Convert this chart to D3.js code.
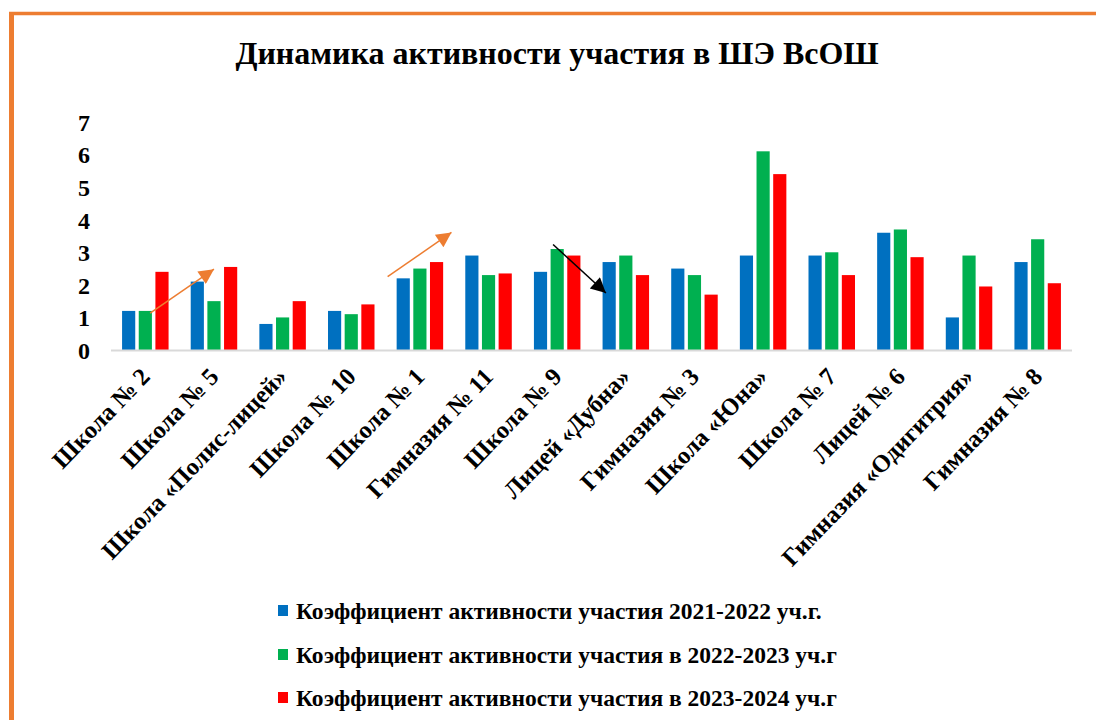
<!DOCTYPE html>
<html><head><meta charset="utf-8">
<script src="https://cdn.jsdelivr.net/npm/d3@7"></script>
<style>
html,body{margin:0;padding:0;background:#fff;}
svg{display:block;}
</style></head>
<body>
<script>
const categories = ["Школа № 2","Школа № 5","Школа «Полис-лицей»","Школа № 10","Школа № 1","Гимназия № 11","Школа № 9","Лицей «Дубна»","Гимназия № 3","Школа «Юна»","Школа № 7","Лицей № 6","Гимназия «Одигитрия»","Гимназия № 8"];
const series2021 = [1.2,2.1,0.8,1.2,2.2,2.9,2.4,2.7,2.5,2.9,2.9,3.6,1.0,2.7];
const series2022 = [1.2,1.5,1.0,1.1,2.5,2.3,3.1,2.9,2.3,6.1,3.0,3.7,2.9,3.4];
const series2023 = [2.4,2.55,1.5,1.4,2.7,2.35,2.9,2.3,1.7,5.4,2.3,2.85,1.95,2.05];
const seriesNames = ["Коэффициент активности участия 2021-2022 уч.г.","Коэффициент активности участия в 2022-2023 уч.г","Коэффициент активности участия в 2023-2024 уч.г"];
const seriesColors = ["#0070C0","#00B050","#FF0000"];
const yTicks = [0,1,2,3,4,5,6,7];
const title = "Динамика активности участия в ШЭ ВсОШ";
// annotation arrows: [startIndex, startValue, endIndex, endValue] in category-band units
const arrowsOrange = [[0.57,1.13,1.5,2.48],[4.03,2.25,4.96,3.61]];
const arrowsBlack = [[6.44,3.24,7.21,1.75]];

const FONT = "'Liberation Serif','Times New Roman',serif";
const W=1096,H=720;
const svg=d3.select("body").append("svg").attr("width",W).attr("height",H)
  .style("font-family",FONT).style("font-weight","bold");
const L=111,R=1072,B=350,T=122;

// border
svg.append("line").attr("x1",9).attr("x2",W).attr("y1",13.5).attr("y2",13.5).attr("stroke","#ED7D31").attr("stroke-width",3.5);
svg.append("line").attr("x1",11.5).attr("x2",11.5).attr("y1",12).attr("y2",H).attr("stroke","#ED7D31").attr("stroke-width",5);

svg.append("text").attr("x",557).attr("y",64).attr("text-anchor","middle")
  .style("font-family",FONT).style("font-weight","bold").attr("font-size",32).text(title);

const x=d3.scaleBand().domain(categories).range([L,R]).paddingInner(0).paddingOuter(0);
const y=d3.scaleLinear().domain([0,7]).range([B,T]);
const xs=d3.scaleBand().domain([0,1,2]).range([0,46.5]).paddingInner(0.21);
const xIdx=d3.scaleLinear().domain([0,categories.length]).range([L,R]);
const off=(x.bandwidth()-46.5)/2;

const allSeries=[series2021,series2022,series2023];
allSeries.forEach((s,si)=>{
  svg.append("g").selectAll("rect").data(s).join("rect")
    .attr("x",(d,i)=>x(categories[i])+off+xs(si))
    .attr("width",xs.bandwidth())
    .attr("y",d=>y(d)).attr("height",d=>B-y(d))
    .attr("fill",seriesColors[si]);
});

// axis line
svg.append("line").attr("x1",L).attr("x2",R).attr("y1",B+0.5).attr("y2",B+0.5).attr("stroke","#D9D9D9").attr("stroke-width",2);

// y axis
const yAxis=d3.axisLeft(y).tickValues(yTicks).tickSize(0).tickPadding(0).tickFormat(d3.format("d"));
const ga=svg.append("g").attr("transform",`translate(${90},0)`).call(yAxis);
ga.attr("font-family",null).attr("font-size",null);
ga.select(".domain").remove();
ga.selectAll("text").style("font-family",FONT).style("font-weight","bold").attr("font-size",24).attr("fill","#000").attr("dy","0.35em");

// x labels
const xAxis=d3.axisBottom(x).tickSize(0).tickPadding(0);
const gx=svg.append("g").attr("transform",`translate(0,${B})`).call(xAxis);
gx.attr("font-family",null).attr("font-size",null);
gx.select(".domain").remove();
gx.selectAll("text").style("font-family",FONT).style("font-weight","bold").attr("font-size",24.5).attr("fill","#000")
  .attr("text-anchor","end").attr("dy",null).attr("y",0)
  .attr("transform","translate(6,28) rotate(-46)");

// arrows
const defs=svg.append("defs");
function mk(id,color,w,h){
  defs.append("marker").attr("id",id).attr("viewBox","0 0 10 10").attr("refX",10).attr("refY",5)
   .attr("markerWidth",w).attr("markerHeight",h).attr("markerUnits","userSpaceOnUse").attr("orient","auto")
   .append("path").attr("d","M0,0L10,5L0,10Z").attr("fill",color);
}
mk("ao","#ED7D31",17,15);
mk("ab","#000",18,15);
svg.append("g").selectAll("line").data(arrowsOrange).join("line")
  .attr("x1",d=>xIdx(d[0])).attr("y1",d=>y(d[1])).attr("x2",d=>xIdx(d[2])).attr("y2",d=>y(d[3]))
  .attr("stroke","#ED7D31").attr("stroke-width",1.5).attr("marker-end","url(#ao)");
svg.append("g").selectAll("line").data(arrowsBlack).join("line")
  .attr("x1",d=>xIdx(d[0])).attr("y1",d=>y(d[1])).attr("x2",d=>xIdx(d[2])).attr("y2",d=>y(d[3]))
  .attr("stroke","#000").attr("stroke-width",1.5).attr("marker-end","url(#ab)");

// legend
const lg=svg.append("g").attr("transform","translate(278,0)");
const rows=[611,655,698];
seriesNames.forEach((n,i)=>{
  lg.append("rect").attr("x",0).attr("y",rows[i]-6).attr("width",10).attr("height",11).attr("fill",seriesColors[i]);
  lg.append("text").attr("x",18).attr("y",rows[i]+8).style("font-family",FONT).style("font-weight","bold")
    .attr("font-size",23.5).text(n);
});
</script>
</body></html>
